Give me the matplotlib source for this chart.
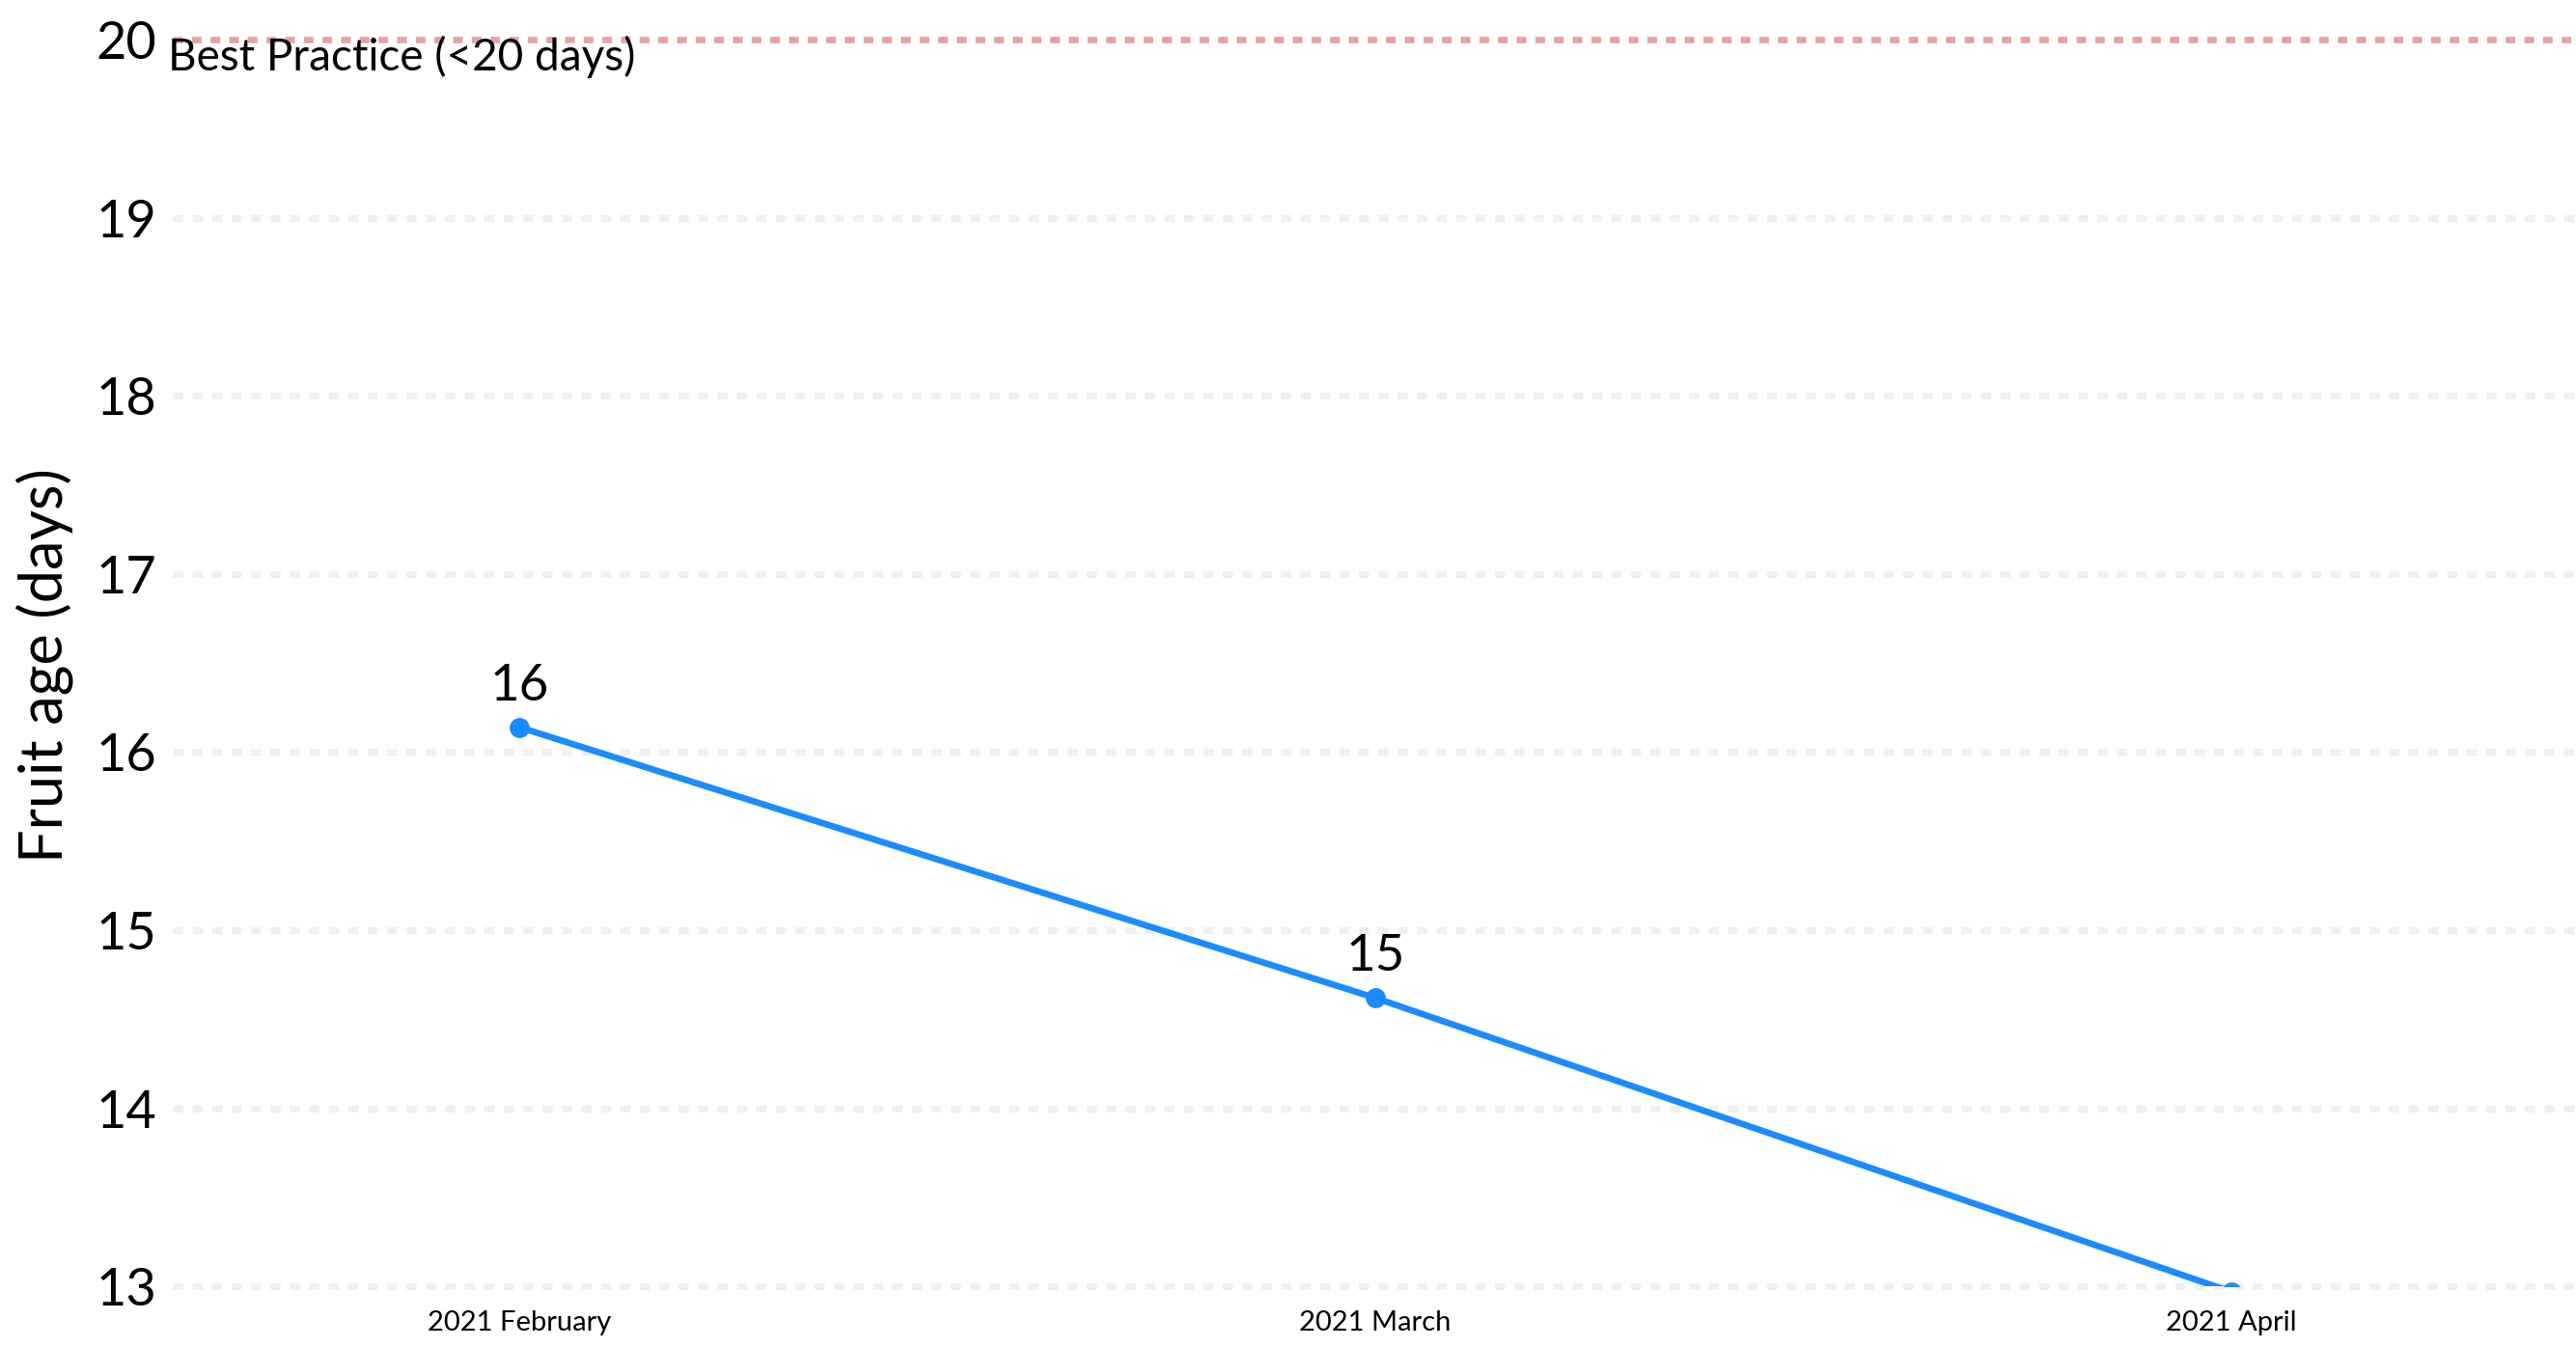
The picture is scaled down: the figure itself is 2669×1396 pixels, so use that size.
import matplotlib
matplotlib.use("Agg")
import matplotlib.pyplot as plt

# data
months = ["2021 February", "2021 March", "2021 April"]
fruit_age = [16.14, 14.62, 12.97]
y_ticks = [13, 14, 15, 16, 17, 18, 19, 20]
best_practice = 20

plt.rcParams["font.family"] = ["Lato", "DejaVu Sans"]

fig = plt.figure(figsize=(2669 / 200, 1396 / 200), dpi=200)
ax = fig.add_axes([0.067, 0.045, 0.933, 0.9255])

x = list(range(len(months)))

# grid lines (square dotted, very light)
for yv in y_ticks[:-1]:
    ax.axhline(yv, color="#f1f0ee", lw=2.5, ls=(0, (1.5, 1.4)),
               dash_capstyle="butt", zorder=1, clip_on=False)

# best practice reference line
ax.axhline(best_practice, color="#e8a1a5", lw=2.4, ls=(0, (1.5, 1.4)),
           dash_capstyle="butt", zorder=2, clip_on=False)
ax.text(-0.002, 1.003, "Best Practice (<20 days)", transform=ax.transAxes,
        ha="left", va="top", fontsize=16.5, color="black")

# series
ax.plot(x, fruit_age, color="#1a8cff", lw=2.4, marker="o", markersize=6.5,
        zorder=3, clip_on=True)
for xi, v in zip(x, fruit_age):
    ax.annotate(f"{v:.0f}", (xi, v), xytext=(0, 10), textcoords="offset points",
                ha="center", va="baseline", fontsize=19, color="black")

ax.set_xlim(-0.405, 2.403)
ax.set_ylim(13, 20)
ax.set_xticks(x)
ax.set_xticklabels(months, fontsize=10.5)
ax.set_yticks(y_ticks)
ax.set_yticklabels([str(t) for t in y_ticks], fontsize=19.5)
ax.tick_params(axis="both", length=0)
ax.tick_params(axis="x", pad=9)
ax.tick_params(axis="y", pad=6)
for s in ax.spines.values():
    s.set_visible(False)

fig.text(46 / 2669, 0.506, "Fruit age (days)", rotation=90, ha="center",
         va="center", fontsize=22)

fig.savefig("out.png", dpi=200)
